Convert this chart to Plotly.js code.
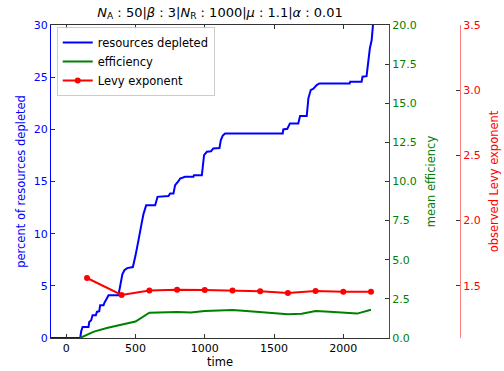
<!DOCTYPE html>
<html>
<head>
<meta charset="utf-8">
<script src="https://cdn.plot.ly/plotly-3.0.1.min.js"></script>
<style>html,body{margin:0;padding:0;background:#fff;}#chart{width:504px;height:371px;}</style>
</head>
<body>
<div id="chart"></div>
<script>
// Resources depleted (percent) step curve
const blueTime = [-110, 101, 108, 118, 161, 166, 180, 190, 214, 221, 238, 245, 269, 276, 293, 305, 377, 385, 395, 405, 420, 440, 481, 490, 500, 522, 534, 546, 558, 570, 577, 642, 654, 659, 738, 750, 774, 786, 810, 822, 858, 918, 922, 979, 995, 1015, 1045, 1062, 1106, 1116, 1130, 1147, 1563, 1567, 1596, 1615, 1675, 1688, 1736, 1748, 1765, 1784, 1808, 1827, 2046, 2050, 2132, 2139, 2168, 2180, 2192, 2205, 2218];
const blueValue = [0, 0, 0.64, 1.06, 1.06, 1.54, 1.70, 2.18, 2.18, 2.5, 2.56, 3.14, 3.14, 3.39, 3.78, 4.1, 4.1, 4.6, 5.5, 6.1, 6.5, 6.7, 6.8, 7.2, 7.9, 9.4, 10.5, 11.1, 11.9, 12.57, 12.73, 12.73, 13.2, 13.53, 13.6, 13.85, 13.85, 14.65, 15.03, 15.29, 15.45, 15.45, 15.6, 15.6, 17.53, 17.85, 17.9, 18.17, 18.2, 18.97, 19.4, 19.61, 19.61, 19.99, 20.05, 20.57, 20.57, 21.27, 21.27, 22.97, 23.76, 23.9, 24.24, 24.4, 24.4, 24.56, 24.56, 25.04, 25.1, 26.64, 27.77, 28.56, 30.6];

// Mean efficiency
const greenTime = [100, 200, 300, 400, 500, 600, 700, 800, 900, 1000, 1100, 1200, 1300, 1400, 1500, 1600, 1700, 1800, 1900, 2000, 2100, 2200];
const greenValue = [0, 0.41, 0.65, 0.85, 1.05, 1.62, 1.64, 1.66, 1.63, 1.72, 1.76, 1.79, 1.72, 1.64, 1.57, 1.52, 1.55, 1.72, 1.67, 1.62, 1.56, 1.81];

// Observed Levy exponent
const redTime = [150, 400, 600, 800, 1000, 1200, 1400, 1600, 1800, 2000, 2200];
const redValue = [1.56, 1.43, 1.465, 1.47, 1.468, 1.464, 1.458, 1.446, 1.46, 1.454, 1.455];

const xTicks = [0, 500, 1000, 1500, 2000];
const yTicks = [0, 5, 10, 15, 20, 25, 30];
const y2Ticks = [0, 2.5, 5, 7.5, 10, 12.5, 15, 17.5, 20];
const y3Ticks = [1.5, 2.0, 2.5, 3.0, 3.5];

const FONT = 'DejaVu Sans, sans-serif';
const TICKC = '#333333';

const traces = [
  {x: blueTime, y: blueValue, type: 'scatter', mode: 'lines', name: 'resources depleted',
   line: {color: '#0000ff', width: 2}, yaxis: 'y', cliponaxis: true},
  {x: greenTime, y: greenValue, type: 'scatter', mode: 'lines', name: 'efficiency',
   line: {color: '#008000', width: 2}, yaxis: 'y2'},
  {x: redTime, y: redValue, type: 'scatter', mode: 'lines+markers', name: 'Levy exponent',
   line: {color: '#ff0000', width: 2}, marker: {color: '#ff0000', size: 6}, yaxis: 'y3'}
];

const layout = {
  width: 504, height: 371,
  margin: {l: 51, r: 44, t: 25, b: 33, pad: 0},
  paper_bgcolor: '#ffffff', plot_bgcolor: '#ffffff',
  font: {family: FONT, size: 11, color: '#000'},
  showlegend: true,
  title: {
    text: '<i>N</i><sub>A</sub> : 50|<i>β</i> : 3|<i>N</i><sub>R</sub> : 1000|<i>μ</i> : 1.1|<i>α</i> : 0.01',
    font: {family: FONT, size: 13, color: '#000'},
    xref: 'container', x: 220/504, xanchor: 'center',
    yref: 'container', y: 1 - 12/371, yanchor: 'middle'
  },
  xaxis: {
    domain: [0, 338/409], range: [-110, 2330],
    tickvals: xTicks, ticks: 'inside', ticklen: 4, tickcolor: TICKC,
    showline: true, linecolor: TICKC, linewidth: 1, mirror: 'ticks',
    showgrid: false, zeroline: false,
    tickfont: {family: FONT, size: 11, color: '#000'},
    title: {text: 'time', font: {family: FONT, size: 11.5, color: '#000'}, standoff: 3}
  },
  yaxis: {
    range: [0, 30], tickvals: yTicks, ticks: 'inside', ticklen: 4, tickcolor: TICKC,
    showline: true, linecolor: '#0000ff', linewidth: 1,
    showgrid: false, zeroline: false,
    tickfont: {family: FONT, size: 11, color: '#0000ff'},
    title: {text: 'percent of resources depleted', font: {family: FONT, size: 11.5, color: '#0000ff'}, standoff: 5}
  },
  yaxis2: {
    overlaying: 'y', side: 'right', anchor: 'x',
    range: [0, 20], tickvals: y2Ticks, tickformat: '.1f',
    ticks: 'inside', ticklen: 4, tickcolor: TICKC,
    showline: true, linecolor: '#008000', linewidth: 1,
    showgrid: false, zeroline: false,
    tickfont: {family: FONT, size: 11, color: '#008000'},
    title: {text: 'mean efficiency', font: {family: FONT, size: 11.5, color: '#008000'}, standoff: 11}
  },
  yaxis3: {
    overlaying: 'y', side: 'right', anchor: 'free', position: 1,
    range: [1.1, 3.5], tickvals: y3Ticks, tickformat: '.1f',
    ticks: 'inside', ticklen: 4, tickcolor: TICKC,
    showline: true, linecolor: 'rgba(255,0,0,0.5)', linewidth: 1,
    showgrid: false, zeroline: false,
    tickfont: {family: FONT, size: 11, color: '#ff0000'},
    title: {text: 'observed Levy exponent', font: {family: FONT, size: 11.5, color: '#ff0000'}, standoff: 10}
  },
  legend: {
    x: 0.014, y: 0.994, xanchor: 'left', yanchor: 'top',
    bgcolor: 'rgba(255,255,255,0.85)', bordercolor: '#cccccc', borderwidth: 1,
    font: {family: FONT, size: 11.5, color: '#000'},
    tracegroupgap: 0
  }
};

Plotly.newPlot('chart', traces, layout, {displayModeBar: false, staticPlot: true});
</script>
</body>
</html>
